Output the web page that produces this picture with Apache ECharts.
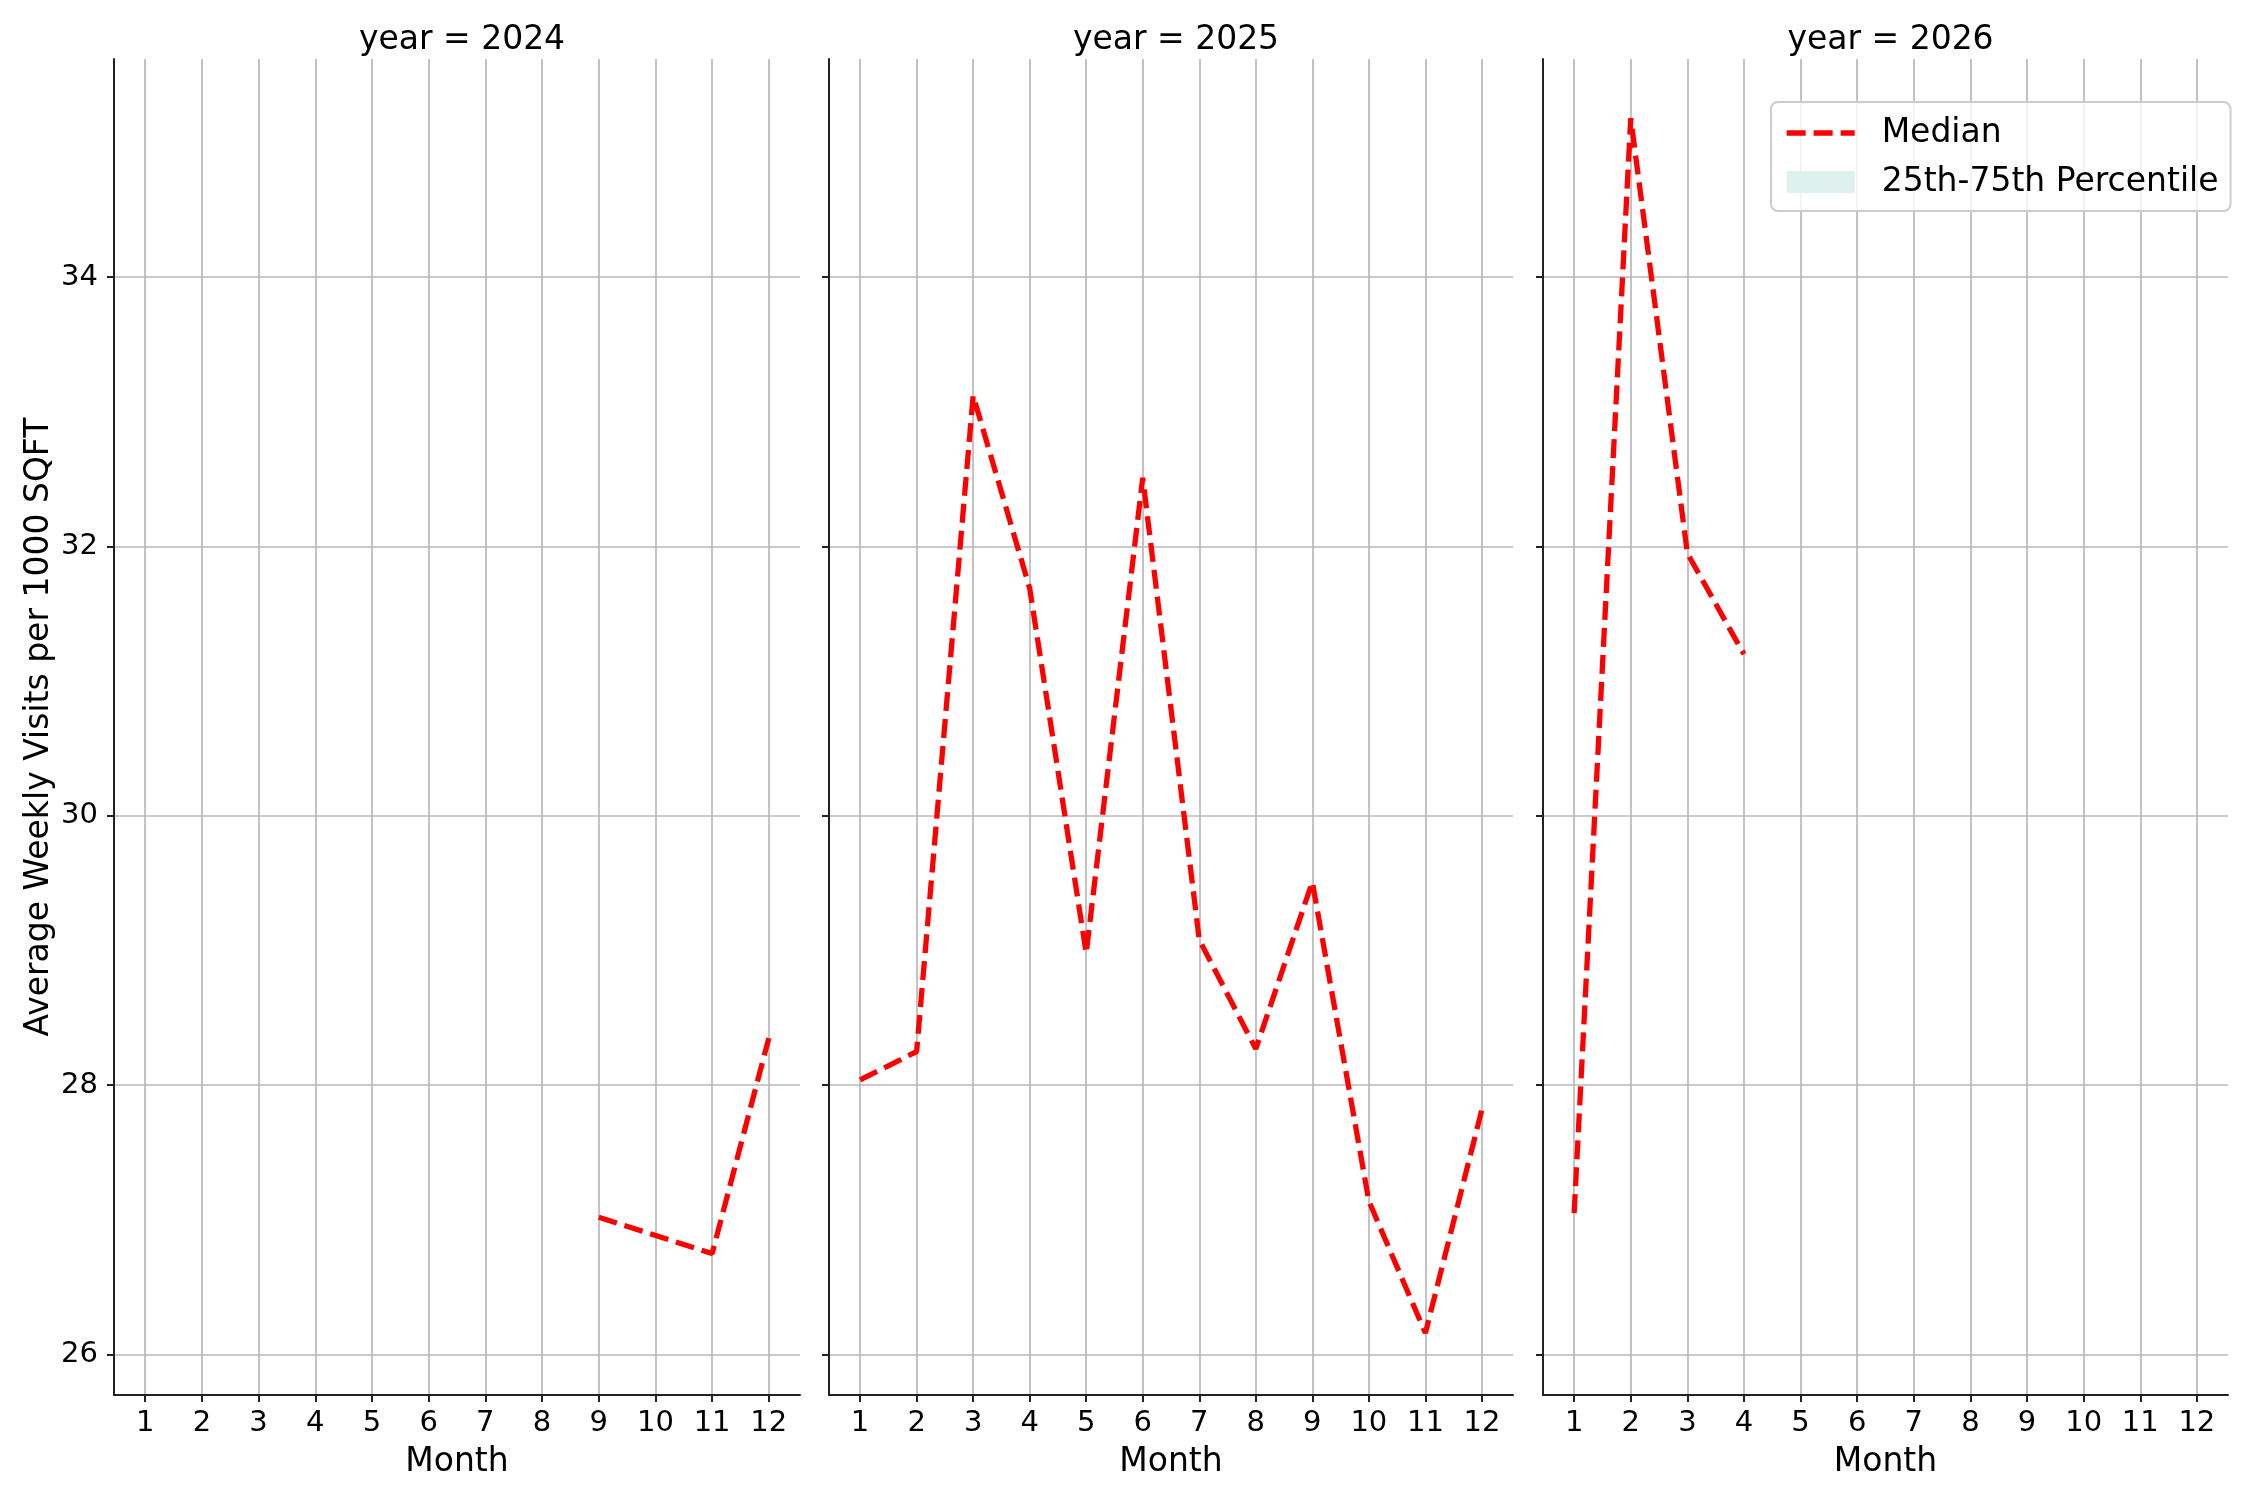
<!DOCTYPE html>
<html>
<head>
<meta charset="utf-8">
<title>Average Weekly Visits per 1000 SQFT</title>
<script src="https://cdn.jsdelivr.net/npm/echarts@6/dist/echarts.min.js"></script>
<style>
  html, body { margin: 0; padding: 0; background: #fff; }
  #container { width: 2250px; height: 1500px; }
</style>
</head>
<body>
<div id="container"></div>
<script>
// values
const years = [2024, 2025, 2026];
const months2024 = [9, 11, 12];
const median2024 = [27.02, 26.75, 28.35];
const months2025 = [1, 2, 3, 4, 5, 6, 7, 8, 9, 10, 11, 12];
const median2025 = [28.04, 28.25, 33.12, 31.69, 28.98, 32.51, 29.08, 28.27, 29.51, 27.14, 26.16, 27.82];
const months2026 = [1, 2, 3, 4];
const median2026 = [27.05, 35.18, 31.95, 31.2];
const monthTicks = [1, 2, 3, 4, 5, 6, 7, 8, 9, 10, 11, 12];
const valueTicks = [26, 28, 30, 32, 34];

const FONT = 'DejaVu Sans';
const DASH = [19, 8];

function pairs(xs, ys) {
    return xs.map(function(x, i) { return [x, ys[i]]; });
}

(function() {
    const dom = document.getElementById('container');
    const myChart = echarts.init(dom, null, {renderer: 'canvas'});

    const panels = [
        {left: 114, width: 686, data: pairs(months2024, median2024)},
        {left: 829, width: 684, data: pairs(months2025, median2025)},
        {left: 1543, width: 685, data: pairs(months2026, median2026)}
    ];

    const grid = [], xAxis = [], yAxis = [], series = [], title = [];

    panels.forEach(function(p, i) {
        grid.push({left: p.left, width: p.width, top: 59, height: 1336, containLabel: false});

        title.push({
            text: 'year = ' + years[i],
            left: p.left + p.width / 2,
            top: 19,
            textAlign: 'center',
            textStyle: {fontFamily: FONT, fontSize: 33, fontWeight: 'normal', color: '#000'}
        });

        xAxis.push({
            type: 'value',
            gridIndex: i,
            min: 0.45,
            max: 12.55,
            name: 'Month',
            nameLocation: 'middle',
            nameGap: 51,
            nameTextStyle: {fontFamily: FONT, fontSize: 33, color: '#000'},
            axisLine: {show: true, lineStyle: {color: '#222', width: 2}},
            axisTick: {show: true, length: 7, customValues: monthTicks, lineStyle: {color: '#222', width: 2}},
            axisLabel: {show: true, customValues: monthTicks, margin: 14, fontFamily: FONT, fontSize: 29, color: '#000'},
            splitLine: {show: true, lineStyle: {color: '#b9b9b9', width: 1.7}}
        });

        yAxis.push({
            type: 'value',
            gridIndex: i,
            min: 25.70,
            max: 35.62,
            name: i === 0 ? 'Average Weekly Visits per 1000 SQFT' : '',
            nameLocation: 'middle',
            nameGap: 58,
            nameTextStyle: {fontFamily: FONT, fontSize: 33, color: '#000'},
            axisLine: {show: true, onZero: false, lineStyle: {color: '#222', width: 2}},
            axisTick: {show: true, length: 7, customValues: valueTicks, lineStyle: {color: '#222', width: 2}},
            axisLabel: {show: i === 0, customValues: valueTicks, margin: 16, fontFamily: FONT, fontSize: 29, color: '#000'},
            splitLine: {show: true, lineStyle: {color: '#b9b9b9', width: 1.7}}
        });

        series.push({
            name: 'Median',
            type: 'line',
            xAxisIndex: i,
            yAxisIndex: i,
            data: p.data,
            symbol: 'none',
            color: '#ff0000',
            lineStyle: {color: '#ff0000', width: 5.3, type: DASH},
            animation: false
        });
    });

    // the band has no values in any panel, it only shows up in the legend
    series.push({
        name: '25th-75th Percentile',
        type: 'line',
        xAxisIndex: 2,
        yAxisIndex: 2,
        data: [],
        symbol: 'none',
        color: '#dff1ec',
        areaStyle: {color: '#dff1ec'},
        animation: false
    });

    const option = {
        backgroundColor: '#ffffff',
        animation: false,
        title: title,
        grid: grid,
        xAxis: xAxis,
        yAxis: yAxis,
        series: series,
        legend: {
            orient: 'vertical',
            left: 1771,
            top: 102,
            padding: [11, 12, 9, 13],
            itemGap: 9,
            itemWidth: 68,
            itemHeight: 22,
            backgroundColor: 'rgba(255,255,255,0.8)',
            borderColor: '#cccccc',
            borderWidth: 2,
            borderRadius: 7,
            selectedMode: false,
            textStyle: {fontFamily: FONT, fontSize: 33, color: '#000', lineHeight: 40, padding: [0, 0, 0, 22]},
            data: [
                {
                    name: 'Median',
                    itemStyle: {opacity: 0},
                    lineStyle: {color: '#ff0000', width: 5.3, type: DASH}
                },
                {name: '25th-75th Percentile', icon: 'rect', itemStyle: {color: '#dff1ec'}}
            ]
        }
    };

    myChart.setOption(option, true);
    window.onresize = function() {
        myChart.resize();
    };
})();
</script>
</body>
</html>
